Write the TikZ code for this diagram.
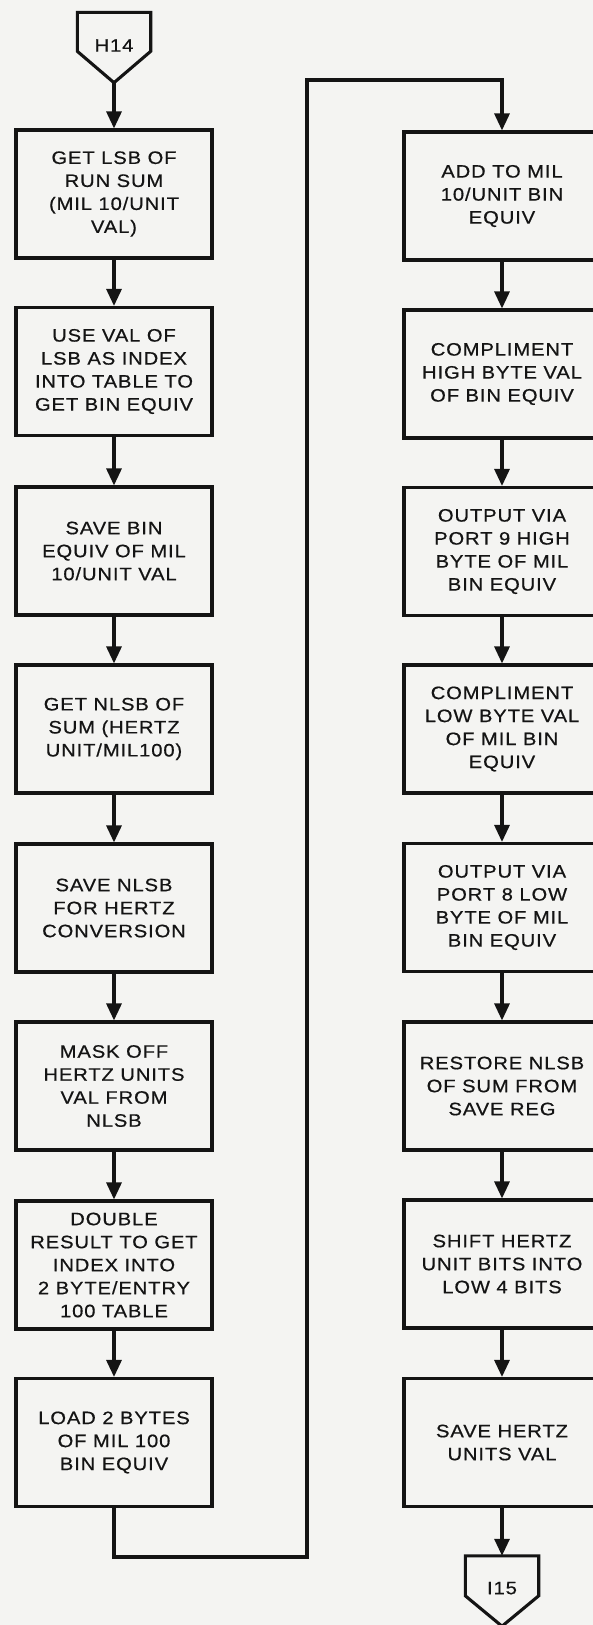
\documentclass[tikz,border=0pt]{standalone}
\usepackage{fontspec}
\setmainfont[FakeStretch=1.12,LetterSpace=5,FakeBold=0.6]{Liberation Sans}
\usetikzlibrary{arrows.meta,calc}
\definecolor{ink}{RGB}{20,20,20}
\definecolor{paper}{RGB}{244,244,242}

\begin{document}
\begin{tikzpicture}[x=1pt,y=-1pt,
  every node/.style={font=\fontsize{18}{23}\selectfont, align=center, text=ink},
  procbox/.style={draw=ink, line width=3.1pt, minimum width=196pt,
                  minimum height=128pt, inner sep=0pt},
  offpage/.style={minimum width=73pt, minimum height=70pt, inner sep=0pt},
  pentline/.style={draw=ink, line width=3.1pt, line join=miter},
  flow/.style={draw=ink, line width=3.1pt,
               -{Triangle[length=17pt,width=15pt]}}]

% page
\fill[paper] (0,0) rectangle (593,1625);
\useasboundingbox (0,0) rectangle (593,1625);

% entry connector
\node[offpage] (h14) at (114,47.5) {\raisebox{4pt}{H14}};
\draw[pentline] (h14.north west) -- (h14.north east)
  -- ($(h14.north east)+(0,39)$) -- (h14.south)
  -- ($(h14.north west)+(0,39)$) -- cycle;

% left column
\node[procbox] (l1) at (114,194)    {GET LSB OF\\RUN SUM\\(MIL 10/UNIT\\VAL)};
\node[procbox] (l2) at (114,371.5)  {USE VAL OF\\LSB AS INDEX\\INTO TABLE TO\\GET BIN EQUIV};
\node[procbox] (l3) at (114,551)    {SAVE BIN\\EQUIV OF MIL\\10/UNIT VAL};
\node[procbox] (l4) at (114,729)    {GET NLSB OF\\SUM (HERTZ\\UNIT/MIL100)};
\node[procbox] (l5) at (114,908)    {SAVE NLSB\\FOR HERTZ\\CONVERSION};
\node[procbox] (l6) at (114,1086)   {MASK OFF\\HERTZ UNITS\\VAL FROM\\NLSB};
\node[procbox] (l7) at (114,1265)   {DOUBLE\\RESULT TO GET\\INDEX INTO\\2 BYTE/ENTRY\\100 TABLE};
\node[procbox] (l8) at (114,1442.5) {LOAD 2 BYTES\\OF MIL 100\\BIN EQUIV};

% right column
\node[procbox] (r1) at (502,196)    {ADD TO MIL\\10/UNIT BIN\\EQUIV};
\node[procbox] (r2) at (502,374)    {COMPLIMENT\\HIGH BYTE VAL\\OF BIN EQUIV};
\node[procbox] (r3) at (502,551.5)  {OUTPUT VIA\\PORT 9 HIGH\\BYTE OF MIL\\BIN EQUIV};
\node[procbox] (r4) at (502,729)    {COMPLIMENT\\LOW BYTE VAL\\OF MIL BIN\\EQUIV};
\node[procbox] (r5) at (502,907.5)  {OUTPUT VIA\\PORT 8 LOW\\BYTE OF MIL\\BIN EQUIV};
\node[procbox] (r6) at (502,1086)   {RESTORE NLSB\\OF SUM FROM\\SAVE REG};
\node[procbox] (r7) at (502,1264)   {SHIFT HERTZ\\UNIT BITS INTO\\LOW 4 BITS};
\node[procbox] (r8) at (502,1442.5) {SAVE HERTZ\\UNITS VAL};

% exit connector
\node[offpage] (i15) at (502,1591) {\raisebox{6pt}{I15}};
\draw[pentline] (i15.north west) -- (i15.north east)
  -- ($(i15.north east)+(0,40)$) -- (i15.south)
  -- ($(i15.north west)+(0,40)$) -- cycle;

% flow down the left column
\draw[flow] (h14.south) -- (l1.north);
\foreach \a/\b in {l1/l2,l2/l3,l3/l4,l4/l5,l5/l6,l6/l7,l7/l8}
  \draw[flow] (\a.south) -- (\b.north);

% return path from the left column to the top of the right column
\coordinate (lb) at (307,1557);
\coordinate (lt) at (307,80);
\draw[flow, line join=miter] (l8.south) |- (lb) -- (lt) -| (r1.north);

% flow down the right column
\foreach \a/\b in {r1/r2,r2/r3,r3/r4,r4/r5,r5/r6,r6/r7,r7/r8}
  \draw[flow] (\a.south) -- (\b.north);
\draw[flow] (r8.south) -- (i15.north);
\end{tikzpicture}
\end{document}
